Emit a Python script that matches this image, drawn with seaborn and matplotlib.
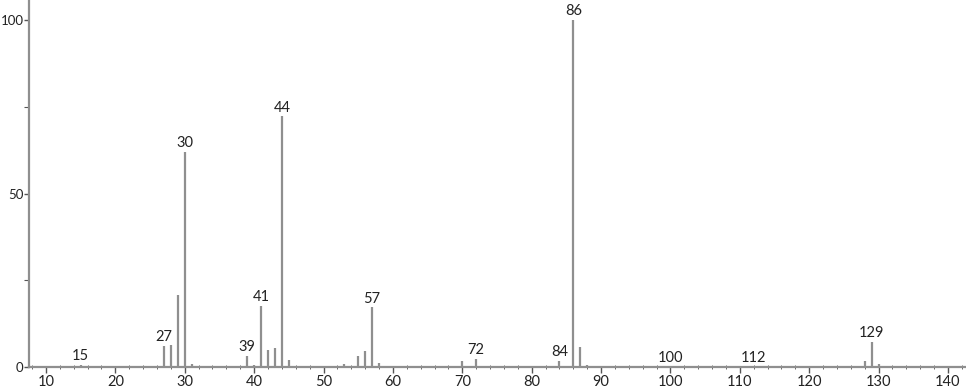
import matplotlib
matplotlib.use("Agg")
import matplotlib.pyplot as plt
import seaborn as sns
import numpy as np
from matplotlib.ticker import MultipleLocator

mz = [15, 26, 27, 28, 29, 30, 31, 38, 39, 40, 41, 42, 43, 44, 45,
      51, 52, 53, 54, 55, 56, 57, 58, 68, 69, 70, 71, 72, 73,
      84, 85, 86, 87, 88, 100, 112, 128, 129, 130]
intensity = [0.7, 0.4, 6.1, 6.2, 20.8, 62.0, 1.0, 0.3, 3.2, 0.5, 17.7, 4.8, 5.4, 72.3, 1.9,
             0.3, 0.3, 0.8, 0.4, 3.2, 4.7, 17.2, 1.2, 0.3, 0.3, 1.7, 0.3, 2.4, 0.3,
             1.7, 0.4, 100.0, 5.8, 0.5, 0.2, 0.2, 1.8, 7.3, 1.0]
labeled = [15, 27, 30, 39, 41, 44, 57, 72, 84, 86, 100, 112, 129]

sns.set_style("ticks")
plt.rcParams['font.family'] = ['Lato', 'DejaVu Sans']

fig = plt.figure(figsize=(9.66, 3.89), dpi=100)
ax = fig.add_axes([0.030, 0.0566, 0.970, 0.9434])

gray = "#8f8f8f"
ax.vlines(mz, 0, intensity, colors=gray, linewidth=1.6)

for m, v in zip(mz, intensity):
    if m in labeled:
        ax.annotate(str(m), (m, v), xytext=(0, 1.2), textcoords="offset points",
                    ha="center", va="bottom", fontsize=10.5, color="#222222")

ax.set_xlim(7.55, 142.6)
ax.set_ylim(0, 105.8)
ax.xaxis.set_major_locator(MultipleLocator(10))
ax.xaxis.set_minor_locator(MultipleLocator(2))
ax.yaxis.set_major_locator(MultipleLocator(50))
ax.yaxis.set_minor_locator(MultipleLocator(25))

sns.despine(ax=ax, top=True, right=True)
for s in ["left", "bottom"]:
    ax.spines[s].set_color(gray)
    ax.spines[s].set_linewidth(1.6)

ax.tick_params(axis="x", which="major", direction="out", length=4, width=1,
               color="#555555", labelsize=10.5, labelcolor="#222222", pad=2)
ax.tick_params(axis="y", which="major", direction="out", length=3.5, width=1,
               color="#555555", labelsize=9.5, labelcolor="#222222", pad=0.5)
ax.tick_params(axis="x", which="minor", direction="inout", length=3.5, width=0.7, color="#666666")
ax.tick_params(axis="y", which="minor", direction="out", length=3.5, width=0.8, color="#555555")

fig.savefig("out.png", dpi=100)
